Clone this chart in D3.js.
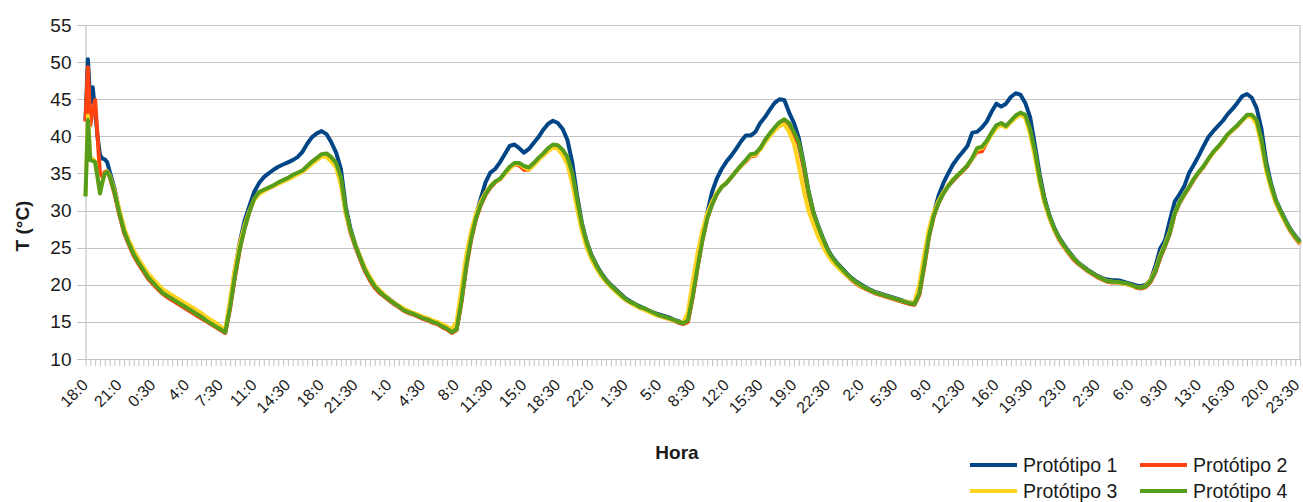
<!DOCTYPE html>
<html>
<head>
<meta charset="utf-8">
<script src="https://cdn.jsdelivr.net/npm/d3@7"></script>
<style>
  html, body { margin: 0; padding: 0; background: #ffffff; }
  svg text { font-family: "Liberation Sans", Arial, sans-serif; fill: #1a1a1a; }
</style>
</head>
<body>
<svg id="chart" width="1303" height="502"></svg>
<script>
// Temperature inside four prototypes, logged over five days.
// Readings 0..10 are quarter-hourly (logger start-up), the rest half-hourly.

const seriesNames = ["Protótipo 1", "Protótipo 2", "Protótipo 3", "Protótipo 4"];
const seriesColors = ["#004586", "#ff420e", "#ffd320", "#579d1c"];

// Category labels shown every 14th quarter-hour slot
const timeLabels = ["18:0","21:0","0:30","4:0","7:30","11:0","14:30","18:0","21:30","1:0","4:30","8:0",
  "11:30","15:0","18:30","22:0","1:30","5:0","8:30","12:0","15:30","19:0","22:30","2:0","5:30","9:0",
  "12:30","16:0","19:30","23:0","2:30","6:0","9:30","13:0","16:30","20:0","23:30"];

const yTicks = [10, 15, 20, 25, 30, 35, 40, 45, 50, 55];

const proto1 = [
  42.2, 50.4, 44.5, 46.6, 43.5, 40.0, 37.5, 37.0, 36.9, 36.5, 35.3,
  33.0, 30.0, 27.4, 25.7,
  24.2, 23.1, 22.1, 21.1, 20.4, 19.7, 19.0, 18.6, 18.2, 17.8,
  17.4, 17.0, 16.6, 16.2, 15.8, 15.3, 14.9, 14.5, 14.1, 13.7,
  17.5, 22.0, 25.7, 28.6, 30.6, 32.5, 33.7, 34.5, 35.0, 35.5,
  35.9, 36.2, 36.5, 36.8, 37.2, 37.9, 39.0, 39.9, 40.4, 40.7,
  40.3, 39.2, 37.8, 35.6, 30.5, 27.5, 25.4, 23.7, 22.1, 20.9,
  19.9, 19.2, 18.6, 18.1, 17.6, 17.1, 16.7, 16.4, 16.1, 15.9,
  15.6, 15.3, 15.1, 14.8, 14.5, 14.1, 13.7, 14.1, 18.0, 23.0,
  26.8, 29.3, 31.6, 33.8, 35.1, 35.6, 36.5, 37.6, 38.7, 38.9,
  38.4, 37.8, 38.3, 39.1, 39.9, 40.9, 41.7, 42.1, 41.8, 41.0,
  39.5, 36.5, 32.0, 28.3, 25.8, 24.0, 22.7, 21.6, 20.7, 20.0,
  19.4, 18.8, 18.2, 17.8, 17.4, 17.1, 16.8, 16.5, 16.2, 16.0,
  15.8, 15.6, 15.3, 15.1, 14.9, 15.3, 18.7, 22.8, 26.6, 29.6,
  32.5, 34.3, 35.6, 36.6, 37.4, 38.3, 39.3, 40.1, 40.1, 40.6,
  41.8, 42.6, 43.6, 44.5, 45.0, 44.9, 43.2, 41.8, 39.8, 36.4,
  32.7, 29.9, 28.0, 26.3, 24.8, 23.7, 22.9, 22.2, 21.5, 20.9,
  20.4, 20.0, 19.6, 19.3, 19.0, 18.8, 18.6, 18.4, 18.2, 18.0,
  17.8, 17.6, 17.5, 19.0, 23.0, 27.0, 29.6, 32.0, 33.7, 35.0,
  36.2, 37.1, 37.9, 38.7, 40.5, 40.6, 41.2, 42.0, 43.3, 44.4,
  44.0, 44.4, 45.3, 45.8, 45.6, 44.5, 42.6, 38.8, 34.8, 31.6,
  29.4, 27.7, 26.4, 25.4, 24.5, 23.7, 23.0, 22.5, 22.0, 21.6,
  21.2, 20.9, 20.7, 20.6, 20.6, 20.5, 20.3, 20.1, 19.9, 19.8,
  20.0, 20.7, 22.5, 24.9, 26.0, 28.7, 31.2, 32.2, 33.3, 35.1,
  36.2, 37.4, 38.7, 39.9, 40.7, 41.4, 42.1, 43.0, 43.7, 44.5,
  45.4, 45.7, 45.2, 43.8, 41.0, 36.5, 33.6, 31.4, 30.0, 28.7,
  27.5, 26.6, 25.8
];

const proto2 = [
  42.0, 49.3, 41.5, 43.5, 44.9, 40.0, 35.0, 34.6, 35.2, 35.3, 34.6,
  32.3, 29.5, 27.0, 25.4,
  23.9, 22.8, 21.8, 20.8, 20.1, 19.4, 18.8, 18.3, 17.9, 17.5,
  17.1, 16.7, 16.3, 15.9, 15.5, 15.1, 14.7, 14.3, 13.9, 13.5,
  16.8, 21.0, 24.7, 27.6, 29.8, 31.6, 32.4, 32.7, 33.0, 33.3,
  33.7, 34.0, 34.3, 34.7, 35.0, 35.3, 35.9, 36.5, 37.0, 37.5,
  37.6, 37.1, 36.3, 34.2, 29.7, 27.0, 25.1, 23.4, 21.8, 20.6,
  19.6, 18.9, 18.4, 17.9, 17.4, 17.0, 16.5, 16.2, 16.0, 15.7,
  15.4, 15.2, 14.9, 14.7, 14.3, 14.0, 13.5, 13.9, 17.6, 22.3,
  26.0, 28.8, 30.7, 32.1, 33.1, 33.8, 34.2, 35.0, 35.8, 36.2,
  36.1, 35.5, 35.5, 36.2, 37.0, 37.6, 38.3, 38.8, 38.7, 38.0,
  36.8, 34.6, 31.2, 27.9, 25.5, 23.7, 22.4, 21.3, 20.5, 19.8,
  19.2, 18.6, 18.0, 17.6, 17.3, 16.9, 16.7, 16.4, 16.1, 15.8,
  15.6, 15.4, 15.2, 14.9, 14.7, 15.0, 18.3, 22.3, 26.0, 28.9,
  30.8, 32.2, 33.2, 33.7, 34.5, 35.3, 36.0, 36.6, 37.3, 37.4,
  38.3, 39.4, 40.3, 41.1, 41.8, 42.2, 41.6, 40.3, 38.8, 35.8,
  32.2, 29.5, 27.6, 26.0, 24.5, 23.4, 22.6, 21.9, 21.2, 20.6,
  20.1, 19.7, 19.4, 19.1, 18.8, 18.6, 18.4, 18.2, 18.0, 17.8,
  17.6, 17.4, 17.3, 18.6, 22.3, 26.4, 29.2, 31.0, 32.3, 33.3,
  34.0, 34.7, 35.3, 36.0, 37.0, 37.9, 38.0, 39.2, 40.4, 41.4,
  41.7, 41.3, 42.0, 42.7, 43.1, 42.8, 40.8, 37.7, 34.0, 31.1,
  29.1, 27.4, 26.1, 25.1, 24.2, 23.4, 22.8, 22.3, 21.8, 21.4,
  21.0, 20.7, 20.4, 20.3, 20.3, 20.2, 20.1, 19.9, 19.6, 19.5,
  19.7, 20.4, 21.7, 23.6, 25.2, 26.9, 29.5, 31.0, 32.1, 33.1,
  34.2, 35.1, 35.9, 36.9, 37.8, 38.5, 39.3, 40.2, 40.8, 41.4,
  42.1, 42.8, 42.8, 42.0, 39.3, 35.6, 33.1, 31.0, 29.7, 28.4,
  27.2, 26.3, 25.5
];

const proto3 = [
  32.0, 42.8, 37.2, 37.0, 36.6, 34.5, 32.6, 33.8, 35.0, 35.3, 34.8,
  32.8, 30.2, 27.7, 26.0,
  24.6, 23.5, 22.5, 21.5, 20.8, 20.1, 19.4, 19.0, 18.6, 18.2,
  17.8, 17.4, 17.0, 16.6, 16.2, 15.7, 15.3, 14.9, 14.4, 14.0,
  18.0, 22.2, 25.5, 28.0, 30.0, 31.4, 32.2, 32.6, 33.0, 33.3,
  33.6, 33.9, 34.2, 34.5, 34.9, 35.2, 35.7, 36.3, 36.8, 37.3,
  37.2, 36.6, 35.8, 33.4, 29.5, 27.2, 25.4, 23.8, 22.3, 21.1,
  20.0, 19.3, 18.7, 18.1, 17.6, 17.2, 16.8, 16.5, 16.2, 16.0,
  15.7, 15.5, 15.2, 15.0, 14.7, 14.4, 14.0, 15.0, 19.5, 24.0,
  27.2, 29.5, 31.2, 32.4, 33.3, 33.9, 34.2, 34.9, 35.6, 36.2,
  36.3, 35.8, 35.5, 36.1, 36.8, 37.4, 38.0, 38.5, 38.3, 37.5,
  36.2, 33.6, 30.3, 27.2, 25.0, 23.4, 22.2, 21.2, 20.4, 19.7,
  19.1, 18.5, 18.0, 17.6, 17.2, 16.9, 16.6, 16.3, 16.0, 15.8,
  15.6, 15.4, 15.2, 15.0, 14.9, 16.3, 20.5, 24.3, 27.3, 29.6,
  31.2, 32.4, 33.2, 33.8, 34.5, 35.2, 36.0, 36.7, 37.4, 37.5,
  38.2, 39.2, 40.0, 40.8, 41.4, 41.6, 40.6, 39.0, 36.0, 32.8,
  30.0, 28.2, 26.5, 25.2, 24.0, 23.1, 22.4, 21.8, 21.2, 20.7,
  20.2, 19.8, 19.5, 19.2, 18.9, 18.7, 18.5, 18.3, 18.1, 17.9,
  17.8, 17.6, 17.6, 20.0, 24.0, 27.5, 29.8, 31.3, 32.5, 33.4,
  34.2, 34.8, 35.4, 36.1, 37.0, 38.2, 38.4, 39.2, 40.2, 41.1,
  41.5, 41.2, 41.9, 42.5, 42.9, 42.5, 40.3, 37.2, 33.6, 31.0,
  29.0, 27.4, 26.2, 25.2, 24.3, 23.6, 22.9, 22.4, 21.9, 21.5,
  21.1, 20.8, 20.5, 20.4, 20.3, 20.2, 20.1, 19.9, 19.7, 19.6,
  19.9, 20.7, 22.0, 24.0, 25.5, 27.2, 29.7, 31.1, 32.2, 33.2,
  34.3, 35.2, 36.0, 36.9, 37.8, 38.5, 39.3, 40.2, 40.8, 41.4,
  42.1, 42.7, 42.6, 41.6, 38.8, 35.3, 32.9, 31.0, 29.6, 28.4,
  27.3, 26.4, 25.6
];

const proto4 = [
  31.9, 42.2, 36.8, 36.7, 36.5, 34.5, 32.3, 33.8, 35.0, 35.2, 34.7,
  32.5, 29.7, 27.2, 25.6,
  24.1, 23.0, 22.0, 21.0, 20.3, 19.6, 18.9, 18.5, 18.1, 17.7,
  17.3, 16.9, 16.5, 16.1, 15.7, 15.2, 14.8, 14.4, 14.0, 13.6,
  17.0, 21.2, 24.8, 27.6, 29.8, 31.6, 32.5, 32.8, 33.1, 33.4,
  33.8, 34.1, 34.4, 34.8, 35.1, 35.4, 36.0, 36.6, 37.1, 37.6,
  37.7, 37.2, 36.4, 34.5, 30.1, 27.3, 25.3, 23.6, 22.0, 20.8,
  19.8, 19.1, 18.5, 18.0, 17.5, 17.1, 16.6, 16.3, 16.1, 15.8,
  15.5, 15.3, 15.0, 14.8, 14.4, 14.1, 13.6, 14.0, 17.8, 22.5,
  26.2, 28.9, 30.8, 32.2, 33.2, 33.9, 34.3, 35.1, 35.9, 36.4,
  36.4, 36.0, 35.8, 36.4, 37.1, 37.7, 38.4, 38.9, 38.8, 38.2,
  37.2, 35.1, 31.5, 28.1, 25.7, 23.9, 22.6, 21.5, 20.6, 19.9,
  19.3, 18.7, 18.1, 17.7, 17.4, 17.0, 16.8, 16.5, 16.2, 15.9,
  15.7, 15.5, 15.3, 15.0, 14.8, 15.2, 18.5, 22.4, 26.0, 28.9,
  30.8, 32.2, 33.2, 33.7, 34.5, 35.3, 36.1, 36.8, 37.6, 37.7,
  38.4, 39.5, 40.4, 41.2, 41.9, 42.3, 41.8, 40.6, 39.2, 36.2,
  32.6, 29.8, 27.9, 26.2, 24.7, 23.6, 22.8, 22.1, 21.4, 20.8,
  20.3, 19.9, 19.5, 19.2, 18.9, 18.7, 18.5, 18.3, 18.1, 17.9,
  17.7, 17.5, 17.4, 18.8, 22.5, 26.5, 29.3, 31.0, 32.3, 33.3,
  34.1, 34.8, 35.4, 36.1, 37.1, 38.4, 38.6, 39.4, 40.5, 41.5,
  41.8, 41.4, 42.1, 42.8, 43.2, 42.9, 41.0, 38.0, 34.3, 31.4,
  29.3, 27.6, 26.3, 25.3, 24.4, 23.6, 22.9, 22.4, 21.9, 21.5,
  21.1, 20.8, 20.5, 20.4, 20.4, 20.3, 20.2, 20.0, 19.7, 19.6,
  19.8, 20.5, 21.8, 23.8, 25.3, 27.0, 29.6, 31.1, 32.2, 33.2,
  34.3, 35.2, 36.0, 37.0, 37.9, 38.6, 39.4, 40.3, 40.9, 41.5,
  42.2, 42.9, 42.9, 42.2, 39.6, 35.9, 33.4, 31.3, 29.9, 28.6,
  27.4, 26.5, 25.7
];

const seriesValues = [proto1, proto2, proto3, proto4];

// reading index -> quarter-hour slot on the category axis
const slotOf = j => (j <= 10 ? j : 2 * j - 10);
const lastSlot = 504;

const plot = { left: 85.5, right: 1300, top: 25, bottom: 359 };

const svg = d3.select("#chart");

const x = d3.scaleLinear().domain([0, lastSlot]).range([plot.left, plot.right]);
const y = d3.scaleLinear().domain([10, 55]).range([plot.bottom, plot.top]);

const gridColor = "#c3c3c3";

// horizontal grid lines (they start a little left of the axis, as tick marks)
svg.append("g")
  .selectAll("line")
  .data(yTicks)
  .join("line")
  .attr("x1", plot.left - 8.5)
  .attr("x2", plot.right)
  .attr("y1", d => Math.round(y(d)) + 0.5)
  .attr("y2", d => Math.round(y(d)) + 0.5)
  .attr("stroke", gridColor)
  .attr("stroke-width", 1.2);

// right frame line
svg.append("line")
  .attr("x1", plot.right).attr("x2", plot.right)
  .attr("y1", y(55)).attr("y2", y(10))
  .attr("stroke", gridColor).attr("stroke-width", 1.2);

// y axis
const yAxis = svg.append("g")
  .attr("transform", `translate(${plot.left},0)`)
  .call(d3.axisLeft(y).tickValues(yTicks).tickSize(0).tickPadding(14).tickFormat(d3.format("d")));
yAxis.select(".domain").attr("stroke", gridColor).attr("stroke-width", 1.2);
yAxis.selectAll("text")
  .attr("font-size", 19)
  .attr("fill", "#1a1a1a")
  .style("font-family", '"Liberation Sans", Arial, sans-serif');

// x axis: a tick per half hour, a label every 3.5 hours
const xAxis = svg.append("g")
  .attr("transform", `translate(0,${plot.bottom})`)
  .call(d3.axisBottom(x)
    .tickValues(d3.range(0, lastSlot + 1, 2))
    .tickSize(7)
    .tickSizeOuter(0)
    .tickFormat(d => (d % 14 === 0 ? timeLabels[d / 14] : "")));
xAxis.select(".domain").attr("stroke", gridColor).attr("stroke-width", 1.2);
xAxis.selectAll(".tick line").attr("stroke", gridColor).attr("stroke-width", 1);
xAxis.selectAll(".tick text")
  .attr("font-size", 16)
  .attr("fill", "#1a1a1a")
  .style("font-family", '"Liberation Sans", Arial, sans-serif')
  .attr("text-anchor", "end")
  .attr("x", 0).attr("y", 0).attr("dy", 0)
  .attr("transform", d => `translate(${d === lastSlot ? 0 : 3},27) rotate(-45)`);

// series lines
const line = d3.line()
  .x((d, j) => x(slotOf(j)))
  .y(d => y(d));

svg.append("g")
  .selectAll("path")
  .data(seriesValues)
  .join("path")
  .attr("d", d => line(d))
  .attr("fill", "none")
  .attr("stroke", (d, i) => seriesColors[i])
  .attr("stroke-width", 4)
  .attr("stroke-linejoin", "round")
  .attr("stroke-linecap", "butt");

// axis titles
svg.append("text")
  .attr("transform", "translate(29,226) rotate(-90)")
  .attr("text-anchor", "middle")
  .attr("font-size", 19)
  .attr("font-weight", "bold")
  .text("T (°C)");

svg.append("text")
  .attr("x", 677)
  .attr("y", 459)
  .attr("text-anchor", "middle")
  .attr("font-size", 19)
  .attr("font-weight", "bold")
  .text("Hora");

// legend, two columns
const legendPos = [[970, 465], [1140, 465], [970, 491], [1140, 491]];
const legend = svg.append("g")
  .selectAll("g")
  .data(seriesNames)
  .join("g")
  .attr("transform", (d, i) => `translate(${legendPos[i][0]},${legendPos[i][1]})`);
legend.append("line")
  .attr("x1", 0).attr("x2", 47)
  .attr("y1", 0).attr("y2", 0)
  .attr("stroke", (d, i) => seriesColors[i])
  .attr("stroke-width", 4);
legend.append("text")
  .attr("x", 53)
  .attr("y", 7)
  .attr("font-size", 19.5)
  .text(d => d);
</script>
</body>
</html>
